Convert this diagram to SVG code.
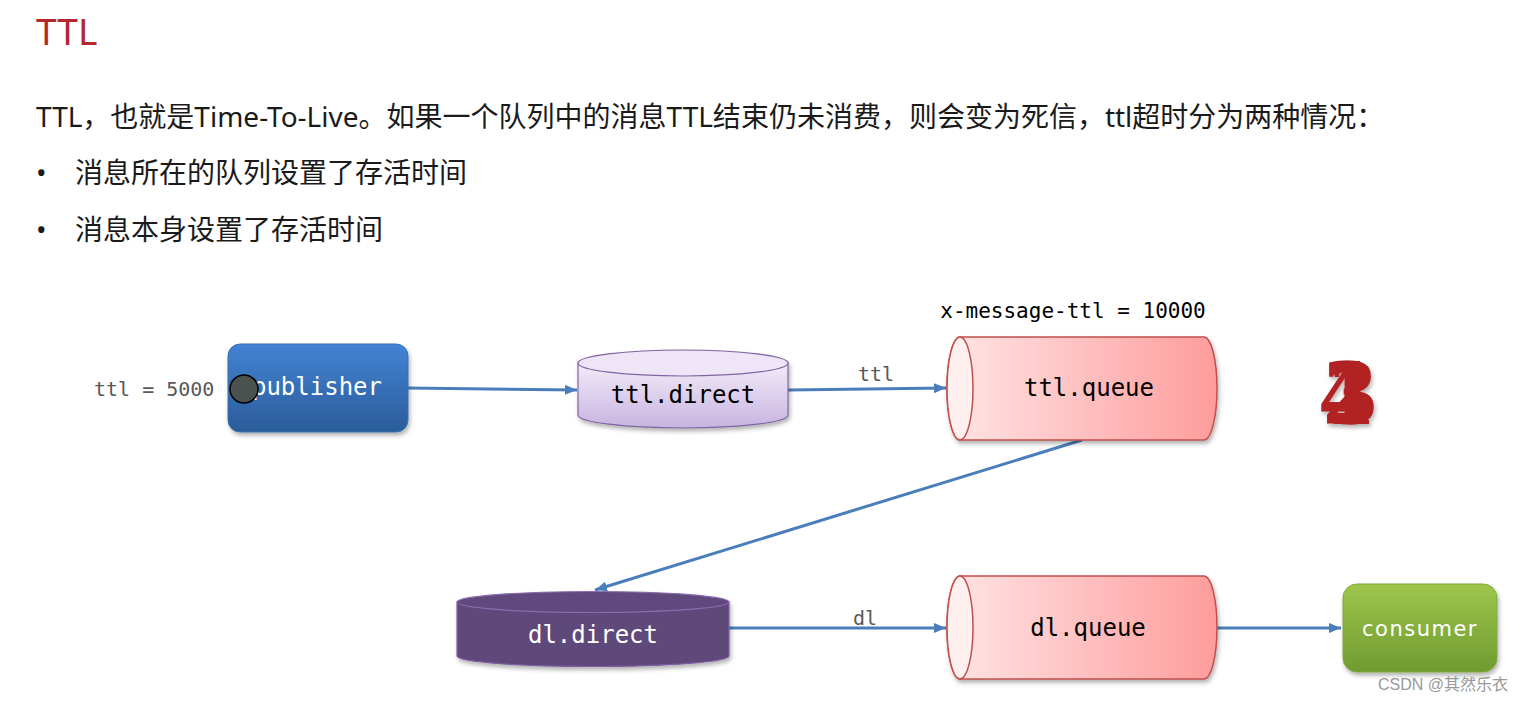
<svg xmlns="http://www.w3.org/2000/svg" width="1530" height="701" viewBox="0 0 1530 701">
<defs>
<style>
.mono{font-family:"DejaVu Sans Mono","Liberation Mono",monospace}
.lbl{font-size:24px;text-anchor:middle}
.small{font-size:20px;fill:#595959}
.cn{font-family:"Noto Sans","Noto Sans CJK SC",sans-serif;font-size:28px;fill:#1a1a1a}
.conn{stroke:#4a7ebb;stroke-width:3;fill:none;marker-end:url(#arr)}
.q{stroke:#c0504d;stroke-width:1.5;fill:url(#gRed)}
.qcap{stroke:#c0504d;stroke-width:1.5;fill:#fff0f0}
</style>
<marker id="arr" markerUnits="userSpaceOnUse" markerWidth="13" markerHeight="11" refX="12" refY="5" orient="auto">
<path d="M0,0 L12,5 L0,10 z" fill="#4a7ebb"/>
</marker>
<linearGradient id="gBlue" x1="0" y1="0" x2="0" y2="1"><stop offset="0" stop-color="#4383d4"/><stop offset="1" stop-color="#2b5c9a"/></linearGradient>
<linearGradient id="gPurp" x1="0" y1="0" x2="0" y2="1"><stop offset="0" stop-color="#f2ebf9"/><stop offset="1" stop-color="#c8b4e1"/></linearGradient>
<linearGradient id="gRed" x1="0" y1="0" x2="1" y2="0"><stop offset="0" stop-color="#ffe5e5"/><stop offset="1" stop-color="#ff9c9c"/></linearGradient>
<linearGradient id="gGreen" x1="0" y1="0" x2="0" y2="1"><stop offset="0" stop-color="#9ec64b"/><stop offset="1" stop-color="#6f9b31"/></linearGradient>
<filter id="sh" x="-10%" y="-10%" width="125%" height="130%"><feDropShadow dx="1.5" dy="3" stdDeviation="2" flood-color="#000" flood-opacity="0.3"/></filter>
</defs>
<rect width="1530" height="701" fill="#fff"/>

<text x="36" y="45" font-family="'Noto Sans','Noto Sans CJK SC',sans-serif" font-size="37" fill="#b3282d">TTL</text>
<text class="cn" x="36" y="127">TTL，也就是Time-To-Live。如果一个队列中的消息TTL结束仍未消费，则会变为死信，ttl超时分为两种情况：</text>
<text class="cn" x="36" y="183">•</text>
<text class="cn" x="75" y="183">消息所在的队列设置了存活时间</text>
<text class="cn" x="36" y="240">•</text>
<text class="cn" x="75" y="240">消息本身设置了存活时间</text>

<g id="connectors">
<line class="conn" x1="408" y1="388" x2="577" y2="390"/>
<line class="conn" x1="788" y1="390" x2="946" y2="388"/>
<line class="conn" x1="1082" y1="440" x2="595" y2="590"/>
<line class="conn" x1="729" y1="628" x2="946" y2="628"/>
<line class="conn" x1="1217" y1="628" x2="1341" y2="628"/>
<text class="mono small" x="876" y="381" text-anchor="middle">ttl</text>
<text class="mono small" x="865" y="625" text-anchor="middle">dl</text>
</g>

<g id="publisher">
<text class="mono small" x="94" y="396" font-size="20.5">ttl = 5000</text>
<rect x="228" y="344" width="180" height="88" rx="12" fill="url(#gBlue)" stroke="#3a6fb0" stroke-width="1" filter="url(#sh)"/>
<text class="mono lbl" x="317" y="395" fill="#fff">publisher</text>
<circle cx="244" cy="389" r="14" fill="#4a5250" stroke="#000" stroke-width="1.5"/>
</g>

<g id="ttl-direct">
<g filter="url(#sh)">
<path d="M578,363 L578,415 A105,13 0 0 0 788,415 L788,363 Z" fill="url(#gPurp)" stroke="#8064a2" stroke-width="1.2"/>
<ellipse cx="683" cy="363" rx="105" ry="13" fill="#eee6f7" stroke="#8064a2" stroke-width="1.2"/>
</g>
<text class="mono lbl" x="683" y="403" fill="#000">ttl.direct</text>
</g>

<g id="ttl-queue">
<text class="mono" x="1073" y="318" font-size="21" text-anchor="middle" fill="#000">x-message-ttl = 10000</text>
<g filter="url(#sh)">
<path class="q" d="M960,337 H1204 A13,51.5 0 0 1 1204,440 H960 A13,51.5 0 0 1 960,337 Z"/>
<ellipse class="qcap" cx="960" cy="388.5" rx="13" ry="51.5"/>
</g>
<text class="mono lbl" x="1089" y="396" fill="#000">ttl.queue</text>
</g>

<g id="marks" filter="url(#sh)">
<text x="1320" y="424" font-family="'Liberation Serif',serif" font-weight="bold" font-size="96" fill="#b22222" letter-spacing="-45">4213</text>
</g>

<g id="dl-direct">
<g filter="url(#sh)">
<path d="M457,602 L457,656 A136,10.5 0 0 0 729,656 L729,602 Z" fill="#5f497a" stroke="#7d60a0" stroke-width="1.2"/>
<ellipse cx="593" cy="602" rx="136" ry="10.5" fill="#604a7b" stroke="#8a6cae" stroke-width="1.2"/>
</g>
<text class="mono lbl" x="593" y="643" fill="#fff">dl.direct</text>
</g>

<g id="dl-queue">
<g filter="url(#sh)">
<path class="q" d="M960,576 H1204 A13,51.5 0 0 1 1204,679 H960 A13,51.5 0 0 1 960,576 Z"/>
<ellipse class="qcap" cx="960" cy="627.5" rx="13" ry="51.5"/>
</g>
<text class="mono lbl" x="1088" y="636" fill="#000">dl.queue</text>
</g>

<g id="consumer">
<rect x="1343" y="584" width="154" height="88" rx="14" fill="url(#gGreen)" stroke="#7fa83c" stroke-width="1" filter="url(#sh)"/>
<text x="1420" y="636" font-family="'DejaVu Sans',Verdana,sans-serif" font-size="21" letter-spacing="1.5" text-anchor="middle" fill="#fff">consumer</text>
</g>

<text x="1378" y="690" font-family="'Liberation Sans','Noto Sans CJK SC',sans-serif" font-size="16" fill="#999">CSDN @其然乐衣</text>
</svg>
